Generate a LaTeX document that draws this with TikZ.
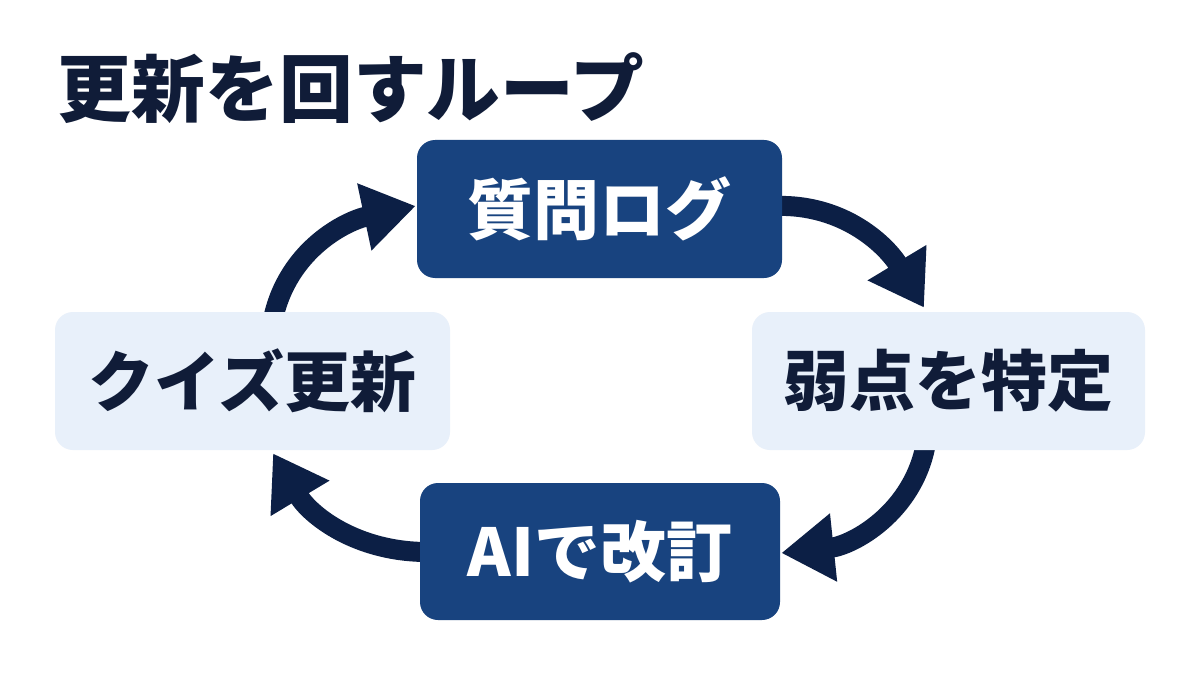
\documentclass[tikz,border=0pt]{standalone}
\usepackage{fontspec}
\setmainfont{Noto Sans CJK JP}[BoldFont={Noto Sans CJK JP Black}]
\usetikzlibrary{arrows.meta,calc,backgrounds}
\definecolor{arrownavy}{HTML}{0C1F45}
\definecolor{boxdark}{HTML}{18437F}
\definecolor{boxlight}{HTML}{E8F0FA}
\definecolor{textdark}{HTML}{101C38}
\tikzset{
  darkbox/.style={fill=boxdark, rounded corners=0.36cm, minimum width=7.3cm, minimum height=2.76cm,
    text=white, font=\bfseries\fontsize{37.5}{40}\selectfont, inner sep=0pt},
  lightbox/.style={fill=boxlight, rounded corners=0.36cm, minimum width=7.9cm, minimum height=2.76cm,
    text=textdark, font=\bfseries\fontsize{37.5}{40}\selectfont, inner sep=0pt},
  looparrow/.style={draw=arrownavy, line width=0.4cm,
    -{Triangle[length=1.05cm,width=1.3cm]}},
}
\begin{document}
\begin{tikzpicture}
\useasboundingbox (0,0) rectangle (24,13.5);
\node[anchor=west, inner sep=0pt, text=textdark, font=\bfseries\fontsize{42}{46}\selectfont] (title) at (1.15,11.74) {更新を回すループ};
\node[darkbox] (top) at (11.99,9.32) {質問ログ};
\node[lightbox, minimum width=7.86cm] (right) at (18.97,5.88) {弱点を特定};
\node[lightbox] (left) at (5.05,5.88) {クイズ更新};
\node[darkbox, minimum width=7.2cm, minimum height=2.74cm] (bottom) at (12,2.47) {AIで改訂};
\begin{scope}[on background layer]
\fill[white] (0,0) rectangle (24,13.5);
\draw[looparrow] ($(left.north)+(0.41,-0.15)$) to[out=78,in=192] ($(top.west)+(-0.02,0.06)$);
\draw[looparrow] ($(top.east)+(-0.15,0.06)$) to[out=2,in=121] ($(right.north)+(-0.49,0.08)$);
\draw[looparrow] ($(right.south)+(-0.45,0.15)$) to[out=-100,in=6] ($(bottom.east)+(0.02,-0.03)$);
\draw[looparrow] ($(bottom.west)+(0.15,-0.01)$) to[out=180,in=301] ($(left.south)+(0.41,-0.06)$);
\end{scope}
\end{tikzpicture}
\end{document}
